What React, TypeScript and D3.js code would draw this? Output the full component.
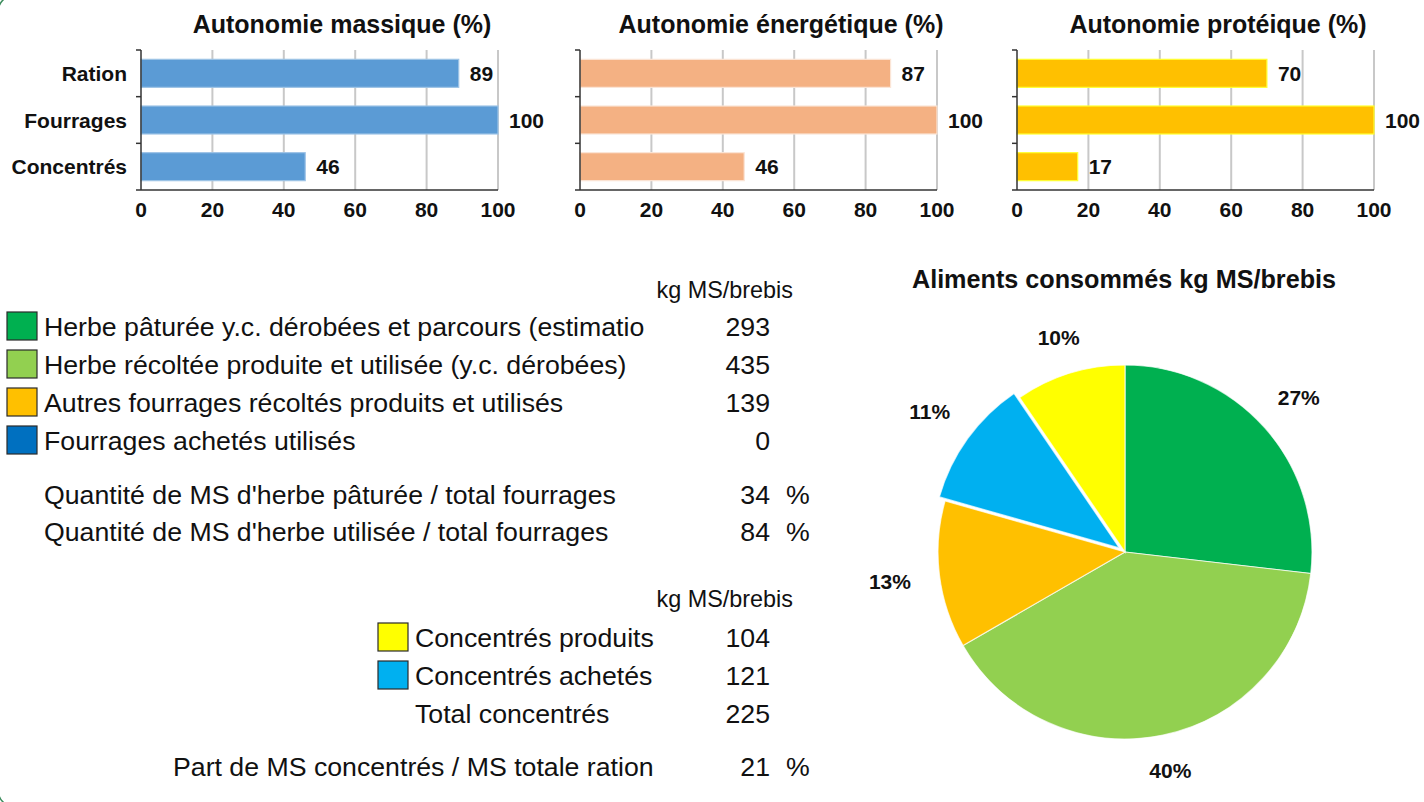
import * as d3 from 'd3';

// bar charts
const categories = ['Ration', 'Fourrages', 'Concentrés'];
const massique = [89, 100, 46];
const energetique = [87, 100, 46];
const proteique = [70, 100, 17];
const xTicks = [0, 20, 40, 60, 80, 100];

// fourrages table
const fourrageLabels = [
  'Herbe pâturée y.c. dérobées et parcours (estimatio',
  'Herbe récoltée produite et utilisée (y.c. dérobées)',
  'Autres fourrages récoltés produits et utilisés',
  'Fourrages achetés utilisés',
];
const fourrageValues = [293, 435, 139, 0];
const fourrageColors = ['#00B050', '#92D050', '#FFC000', '#0070C0'];
const ratioLabels = [
  "Quantité de MS d'herbe pâturée / total fourrages",
  "Quantité de MS d'herbe utilisée / total fourrages",
];
const ratioValues = [34, 84];

// concentrés table
const concLabels = ['Concentrés produits', 'Concentrés achetés'];
const concValues = [104, 121];
const concColors = ['#FFFF00', '#00B0F0'];
const totalConc = 225;
const partConc = 21;

// pie order (clockwise from 12 o'clock)
const pieValues = [293, 435, 139, 0, 121, 104];
const pieColors = ['#00B050', '#92D050', '#FFC000', '#0070C0', '#00B0F0', '#FFFF00'];
const explodedSlice = 4;

const FONT = '"Liberation Sans", Arial, sans-serif';
const TXT = 26.7;

function BarPanel({ title, values, fill, stroke, x0, showCats }: any) {
  const x = d3.scaleLinear().domain([0, 100]).range([x0, x0 + 357]);
  const y = d3.scaleBand().domain(categories).range([50, 190]).paddingInner(0.4).paddingOuter(0.2);
  const step = y.step();
  const tickYs = d3.range(categories.length + 1).map(i => 50 + i * step);
  return (
    <g>
      <text x={x0 + 201} y={33} textAnchor="middle" fontWeight="bold" fontSize={25} fill="#111">{title}</text>
      {xTicks.slice(1).map(t => (
        <line key={t} x1={x(t)} x2={x(t)} y1={50} y2={190} stroke="#c8c8c8" strokeWidth={2} />
      ))}
      {categories.map((c, i) => (
        <g key={c}>
          <rect x={x(0)} y={y(c)} width={x(values[i]) - x(0)} height={y.bandwidth()} fill={fill} stroke={stroke} strokeWidth={1.2} />
          <text x={x(values[i]) + 11} y={(y(c) as number) + y.bandwidth() / 2} dy="0.36em" fontWeight="bold" fontSize={21} fill="#111">{values[i]}</text>
          {showCats && (
            <text x={x0 - 14} y={(y(c) as number) + y.bandwidth() / 2} dy="0.36em" textAnchor="end" fontWeight="bold" fontSize={21} fill="#111">{c}</text>
          )}
        </g>
      ))}
      <line x1={x(0)} x2={x(100)} y1={190} y2={190} stroke="#333" strokeWidth={1.5} />
      <line x1={x(0)} x2={x(0)} y1={50} y2={190} stroke="#333" strokeWidth={1.5} />
      {tickYs.map((ty, i) => (
        <line key={i} x1={x(0) - 5} x2={x(0)} y1={ty} y2={ty} stroke="#333" strokeWidth={1.5} />
      ))}
      {xTicks.map(t => (
        <text key={t} x={x(t)} y={217} textAnchor="middle" fontWeight="bold" fontSize={21} fill="#111">{t}</text>
      ))}
    </g>
  );
}

function Pie() {
  const cx = 1125, cy = 552, r = 187;
  const total = d3.sum(pieValues);
  const arcs = d3.pie<number>().sort(null).value(d => d)(pieValues);
  const arc = d3.arc<d3.PieArcDatum<number>>().innerRadius(0).outerRadius(r);
  return (
    <g>
      <text x={1124} y={288} textAnchor="middle" fontWeight="bold" fontSize={25.2} fill="#111">Aliments consommés kg MS/brebis</text>
      {arcs.map((a, i) => {
        if (a.value === 0) return null;
        const mid = (a.startAngle + a.endAngle) / 2;
        const off = i === explodedSlice ? 7 : 0;
        const ox = cx + off * Math.sin(mid), oy = cy - off * Math.cos(mid);
        const d = r + 33 + 17 * Math.abs(Math.sin(mid)) + off;
        const lx = cx + d * Math.sin(mid), ly = cy - d * Math.cos(mid);
        return (
          <g key={i}>
            <path d={arc(a) as string} transform={`translate(${ox},${oy})`} fill={pieColors[i]} stroke="#ffffff" strokeOpacity={0.7} strokeWidth={1.2} />
            <text x={lx} y={ly} dy="0.36em" textAnchor="middle" fontWeight="bold" fontSize={21} fill="#111">
              {Math.round((a.value / total) * 100)}%
            </text>
          </g>
        );
      })}
    </g>
  );
}

export default function App() {
  const rowH = 38;
  return (
    <svg width={1424} height={802} style={{ position: 'absolute', left: 0, top: 0, background: '#fff' }} fontFamily={FONT}>
      <rect x={-1.5} y={-3.7} width={1440} height={809.4} rx={14} fill="none" stroke="#3b8c5c" strokeWidth={1.5} />

      <BarPanel title="Autonomie massique (%)" values={massique} fill="#5B9BD5" stroke="#9DC3E6" x0={141} showCats />
      <BarPanel title="Autonomie énergétique (%)" values={energetique} fill="#F4B183" stroke="#FBE5D6" x0={580} />
      <BarPanel title="Autonomie protéique (%)" values={proteique} fill="#FFC000" stroke="#FFFF33" x0={1017} />

      {/* fourrages */}
      <text x={793} y={298} textAnchor="end" fontSize={23.4} fill="#111">kg MS/brebis</text>
      {fourrageLabels.map((l, i) => (
        <g key={l}>
          <rect x={7} y={312 + i * rowH} width={30} height={28} fill={fourrageColors[i]} stroke="#2a2a2a" strokeWidth={1.2} />
          <text x={44} y={326 + i * rowH} dy="0.36em" fontSize={TXT} fill="#111">{l}</text>
          <text x={770} y={326 + i * rowH} dy="0.36em" textAnchor="end" fontSize={TXT} fill="#111">{fourrageValues[i]}</text>
        </g>
      ))}
      {ratioLabels.map((l, i) => (
        <g key={l}>
          <text x={44} y={494 + i * 37} dy="0.36em" fontSize={TXT} fill="#111">{l}</text>
          <text x={770} y={494 + i * 37} dy="0.36em" textAnchor="end" fontSize={TXT} fill="#111">{ratioValues[i]}</text>
          <text x={786} y={494 + i * 37} dy="0.36em" fontSize={TXT} fill="#111">%</text>
        </g>
      ))}

      {/* concentrés */}
      <text x={793} y={607} textAnchor="end" fontSize={23.4} fill="#111">kg MS/brebis</text>
      {concLabels.map((l, i) => (
        <g key={l}>
          <rect x={378} y={623 + i * rowH} width={30} height={28} fill={concColors[i]} stroke="#2a2a2a" strokeWidth={1.2} />
          <text x={415} y={637 + i * rowH} dy="0.36em" fontSize={TXT} fill="#111">{l}</text>
          <text x={770} y={637 + i * rowH} dy="0.36em" textAnchor="end" fontSize={TXT} fill="#111">{concValues[i]}</text>
        </g>
      ))}
      <text x={415} y={713} dy="0.36em" fontSize={TXT} fill="#111">Total concentrés</text>
      <text x={770} y={713} dy="0.36em" textAnchor="end" fontSize={TXT} fill="#111">{totalConc}</text>
      <text x={173} y={766} dy="0.36em" fontSize={TXT} fill="#111">Part de MS concentrés / MS totale ration</text>
      <text x={770} y={766} dy="0.36em" textAnchor="end" fontSize={TXT} fill="#111">{partConc}</text>
      <text x={786} y={766} dy="0.36em" fontSize={TXT} fill="#111">%</text>

      <Pie />
    </svg>
  );
}
